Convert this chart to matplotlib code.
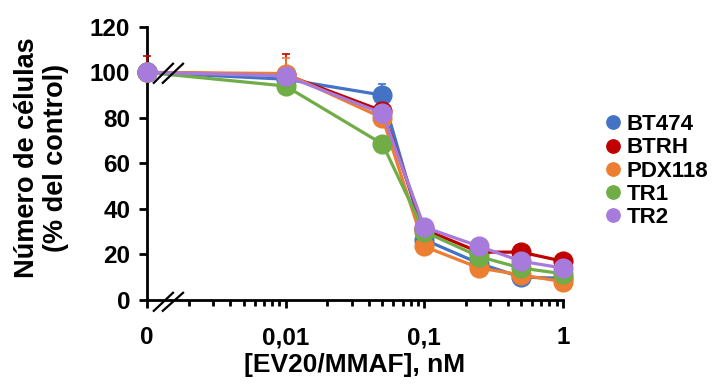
import matplotlib.pyplot as plt
import matplotlib.ticker as mticker
import matplotlib.transforms as mtransforms

plt.rcParams['font.family'] = ['Liberation Sans', 'DejaVu Sans']
plt.rcParams['font.weight'] = 'bold'

doses = [0, 0.01, 0.05, 0.1, 0.25, 0.5, 1]
zero_pos = 0.001  # where dose 0 sits on the log axis

series_names = ['BT474', 'BTRH', 'PDX118', 'TR1', 'TR2']
colors = ['#4472C4', '#C00000', '#ED7D31', '#70AD47', '#A77BDB']
bt474 = [100, 97, 90, 26.5, 16, 10, 9.5]
btrh = [100, 99, 83, 31, 21, 21, 17]
pdx118 = [100, 99.5, 80, 23.5, 14, 11, 8]
tr1 = [100, 94, 68.5, 30, 19, 14, 11.5]
tr2 = [100, 98.5, 82, 32, 23.5, 17, 14]
bt474_err = [0, 2, 5, 2, 1, 1, 1]
btrh_err = [7, 9, 2, 4, 1, 1, 1]
pdx118_err = [0, 7, 1, 1, 1, 1, 1]
tr1_err = [0, 2, 1, 1, 1, 1, 1]
tr2_err = [0, 4, 1, 1, 1, 1, 1]

values = [bt474, btrh, pdx118, tr1, tr2]
errors = [bt474_err, btrh_err, pdx118_err, tr1_err, tr2_err]

xpos = [zero_pos if d == 0 else d for d in doses]

fig = plt.figure(figsize=(7.17, 3.84), dpi=100)
ax = fig.add_axes([0.205, 0.219, 0.58, 0.711])

for name, col, y, e in zip(series_names, colors, values, errors):
    ax.errorbar(xpos, y, yerr=[[0] * len(e), e], color=col, ecolor=col,
                elinewidth=1.2, capsize=3, capthick=1.2, lw=2.3,
                marker='o', ms=13.5, label=name, clip_on=False, zorder=3)

ax.set_xscale('log')
ax.set_xlim(zero_pos, 1)
ax.set_ylim(0, 120)
ax.set_yticks(range(0, 121, 20))
ax.set_xticks([zero_pos, 0.01, 0.1, 1])
ax.set_xticklabels(['0', '0,01', '0,1', '1'])
ax.xaxis.set_minor_locator(mticker.LogLocator(base=10, subs=range(2, 10)))
ax.xaxis.set_minor_formatter(mticker.NullFormatter())

for s in ['top', 'right']:
    ax.spines[s].set_visible(False)
for s in ['left', 'bottom']:
    ax.spines[s].set_linewidth(2)

ax.tick_params(axis='both', which='major', labelsize=17.5, width=2, length=6, direction='out')
ax.tick_params(axis='x', which='minor', width=2, length=4, direction='out')
ax.tick_params(axis='x', pad=13)
ax.tick_params(axis='y', pad=6)

ax.set_ylabel('Número de células\n(% del control)', fontsize=19.5, fontweight='bold',
              linespacing=1.12)
ax.yaxis.set_label_coords(-0.188, 0.52)
ax.set_xlabel('[EV20/MMAF], nM', fontsize=19, fontweight='bold')
ax.xaxis.set_label_coords(0.5, -0.195)

# axis break marks
trans = mtransforms.blended_transform_factory(ax.transData, ax.transAxes)
for x0, x1 in [(0.00112, 0.00154), (0.00130, 0.00182)]:
    ax.plot([x0, x1], [-0.04, 0.026], color='black', lw=1.6, transform=trans, clip_on=False, zorder=5)
    ax.plot([x0, x1], [0.795, 0.865], color='black', lw=1.6, transform=trans, clip_on=False, zorder=5)

handles, labels = ax.get_legend_handles_labels()
handles = [plt.Line2D([], [], ls='none', marker='o', ms=9.6, color=c) for c in colors]
fig.legend(handles, labels, loc='upper left', bbox_to_anchor=(0.812, 0.755),
           frameon=False, prop={'size': 16, 'weight': 'bold'},
           handletextpad=0.1, labelspacing=0.1, handlelength=1.0)

fig.savefig('out.png', dpi=100)
